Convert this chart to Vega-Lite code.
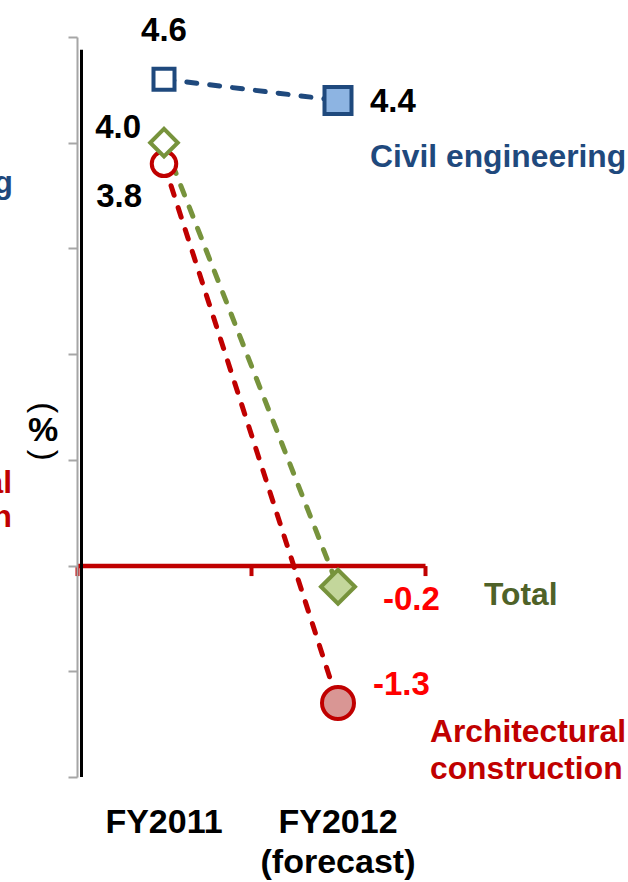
{
  "$schema": "https://vega.github.io/schema/vega-lite/v6.json",
  "width": 348,
  "height": 740,
  "autosize": {"type": "none"},
  "padding": {"left": 77, "top": 37, "right": 203, "bottom": 105},
  "background": "white",
  "config": {
    "view": {"stroke": null},
    "font": "Liberation Sans",
    "text": {"font": "Liberation Sans", "fontSize": 33, "fontWeight": "bold", "baseline": "alphabetic"}
  },
  "datasets": {
    "growth": [
      {"series": "Architectural construction", "year": "FY2011", "value": 3.8},
      {"series": "Architectural construction", "year": "FY2012 (forecast)", "value": -1.3},
      {"series": "Civil engineering", "year": "FY2011", "value": 4.6},
      {"series": "Civil engineering", "year": "FY2012 (forecast)", "value": 4.4},
      {"series": "Total", "year": "FY2011", "value": 4.0},
      {"series": "Total", "year": "FY2012 (forecast)", "value": -0.2}
    ]
  },
  "resolve": {"axis": {"x": "independent"}},
  "layer": [
    {
      "data": {"name": "growth"},
      "mark": {"type": "line", "strokeWidth": 5, "strokeDash": [10, 13], "strokeCap": "round"},
      "encoding": {
        "x": {
          "field": "year",
          "type": "nominal",
          "sort": ["FY2011", "FY2012 (forecast)"],
          "scale": {"type": "band", "paddingInner": 0, "paddingOuter": 0},
          "axis": {
            "orient": "bottom",
            "title": null,
            "domain": false,
            "ticks": false,
            "labelAngle": 0,
            "labelFontSize": 34,
            "labelFontWeight": "bold",
            "labelColor": "black",
            "labelPadding": 28,
            "labelLineHeight": 40,
            "labelExpr": "split(datum.value, ' ')"
          }
        },
        "y": {
          "field": "value",
          "type": "quantitative",
          "scale": {"domain": [-2, 5], "nice": false, "zero": false},
          "axis": {
            "values": [-2, -1, 0, 1, 2, 3, 4, 5],
            "labels": false,
            "grid": false,
            "domainColor": "#A6A6A6",
            "domainWidth": 2,
            "tickColor": "#A6A6A6",
            "tickWidth": 2,
            "tickSize": 9,
            "title": "(\u00a0\u00a0\u00a0\u00a0)",
            "titleFont": "Liberation Sans",
            "titleFontSize": 33,
            "titleFontWeight": "normal",
            "titleColor": "black",
            "titleAngle": 90,
            "titleAlign": "center",
            "titleBaseline": "middle",
            "titleX": -34,
            "titleY": 394
          }
        },
        "color": {
          "field": "series",
          "type": "nominal",
          "scale": {
            "domain": ["Architectural construction", "Civil engineering", "Total"],
            "range": ["#C00000", "#1F497D", "#77933C"]
          },
          "legend": null
        },
        "order": {"field": "series", "sort": "ascending"}
      }
    },
    {
      "data": {"values": [{}]},
      "mark": {"type": "rule", "color": "black", "strokeWidth": 3, "xOffset": 4.5},
      "encoding": {
        "x": {"datum": "FY2011", "bandPosition": 0,
          "axis": {
            "orient": "bottom",
            "labels": false,
            "title": null,
            "offset": -211.43,
            "domainColor": "#C00000",
            "domainWidth": 4.5,
            "domainCap": "butt",
            "tickColor": "#C00000",
            "tickWidth": 4,
            "tickSize": 10,
            "bandPosition": 1,
            "tickExtra": true
          }
        },
        "y": {"datum": 4.88},
        "y2": {"datum": -2}
      }
    },
    {
      "data": {"values": [{"unit": "%"}]},
      "mark": {"type": "text", "align": "center", "baseline": "middle", "dx": -34, "fontSize": 34, "color": "black"},
      "encoding": {
        "x": {"datum": "FY2011", "bandPosition": 0, "axis": null},
        "y": {"datum": 1.27},
        "text": {"field": "unit"}
      }
    },
    {
      "data": {"name": "growth"},
      "mark": {"type": "point", "filled": false, "strokeWidth": 4, "opacity": 1},
      "encoding": {
        "x": {"field": "year", "type": "nominal", "axis": null},
        "y": {"field": "value", "type": "quantitative"},
        "shape": {
          "field": "series",
          "type": "nominal",
          "scale": {
            "domain": ["Architectural construction", "Civil engineering", "Total"],
            "range": ["circle", "square", "diamond"]
          },
          "legend": null
        },
        "stroke": {
          "field": "series",
          "type": "nominal",
          "scale": {
            "domain": ["Architectural construction", "Civil engineering", "Total"],
            "range": ["#C00000", "#1F497D", "#77933C"]
          },
          "legend": null
        },
        "fill": {
          "condition": {"test": "datum.year === 'FY2011'", "value": "white"},
          "field": "series",
          "type": "nominal",
          "scale": {
            "domain": ["Architectural construction", "Civil engineering", "Total"],
            "range": ["#D99694", "#8DB4E2", "#C3D69B"]
          },
          "legend": null
        },
        "size": {
          "condition": [
            {"test": "datum.series === 'Civil engineering' && datum.year === 'FY2011'", "value": 441},
            {"test": "datum.series === 'Civil engineering'", "value": 729},
            {"test": "datum.series === 'Total' && datum.year === 'FY2011'", "value": 760},
            {"test": "datum.series === 'Total'", "value": 1156},
            {"test": "datum.year === 'FY2011'", "value": 600}
          ],
          "value": 1024
        }
      }
    },
    {
      "data": {"name": "growth"},
      "transform": [
        {"filter": "datum.series === 'Civil engineering' && datum.year === 'FY2011'"},
        {"calculate": "replace(format(datum.value, '.1f'), '\u2212', '-')", "as": "label"}
      ],
      "mark": {"type": "text", "align": "center", "dy": -38, "color": "black"},
      "encoding": {
        "x": {"field": "year", "type": "nominal", "axis": null},
        "y": {"field": "value", "type": "quantitative"},
        "text": {"field": "label"}
      }
    },
    {
      "data": {"name": "growth"},
      "transform": [
        {"filter": "datum.series === 'Civil engineering' && datum.year !== 'FY2011'"},
        {"calculate": "replace(format(datum.value, '.1f'), '\u2212', '-')", "as": "label"}
      ],
      "mark": {"type": "text", "align": "left", "dx": 32, "dy": 12, "color": "black"},
      "encoding": {
        "x": {"field": "year", "type": "nominal", "axis": null},
        "y": {"field": "value", "type": "quantitative"},
        "text": {"field": "label"}
      }
    },
    {
      "data": {"name": "growth"},
      "transform": [
        {"filter": "datum.series === 'Total' && datum.year === 'FY2011'"},
        {"calculate": "replace(format(datum.value, '.1f'), '\u2212', '-')", "as": "label"}
      ],
      "mark": {"type": "text", "align": "right", "dx": -23, "dy": -5, "color": "black"},
      "encoding": {
        "x": {"field": "year", "type": "nominal", "axis": null},
        "y": {"field": "value", "type": "quantitative"},
        "text": {"field": "label"}
      }
    },
    {
      "data": {"name": "growth"},
      "transform": [
        {"filter": "datum.series === 'Architectural construction' && datum.year === 'FY2011'"},
        {"calculate": "replace(format(datum.value, '.1f'), '\u2212', '-')", "as": "label"}
      ],
      "mark": {"type": "text", "align": "right", "dx": -22, "dy": 43, "color": "black"},
      "encoding": {
        "x": {"field": "year", "type": "nominal", "axis": null},
        "y": {"field": "value", "type": "quantitative"},
        "text": {"field": "label"}
      }
    },
    {
      "data": {"name": "growth"},
      "transform": [
        {"filter": "datum.series === 'Total' && datum.year !== 'FY2011'"},
        {"calculate": "replace(format(datum.value, '.1f'), '\u2212', '-')", "as": "label"}
      ],
      "mark": {"type": "text", "align": "left", "dx": 45, "dy": 23, "color": "#FF0000"},
      "encoding": {
        "x": {"field": "year", "type": "nominal", "axis": null},
        "y": {"field": "value", "type": "quantitative"},
        "text": {"field": "label"}
      }
    },
    {
      "data": {"name": "growth"},
      "transform": [
        {"filter": "datum.series === 'Architectural construction' && datum.year !== 'FY2011'"},
        {"calculate": "replace(format(datum.value, '.1f'), '\u2212', '-')", "as": "label"}
      ],
      "mark": {"type": "text", "align": "left", "dx": 35, "dy": -8, "color": "#FF0000"},
      "encoding": {
        "x": {"field": "year", "type": "nominal", "axis": null},
        "y": {"field": "value", "type": "quantitative"},
        "text": {"field": "label"}
      }
    },
    {
      "data": {"name": "growth"},
      "transform": [{"filter": "datum.series === 'Civil engineering' && datum.year !== 'FY2011'"}],
      "mark": {"type": "text", "align": "left", "dx": 32, "dy": 67, "color": "#1F497D", "fontSize": 31.8},
      "encoding": {
        "x": {"field": "year", "type": "nominal", "axis": null},
        "y": {"field": "value", "type": "quantitative"},
        "text": {"field": "series"}
      }
    },
    {
      "data": {"name": "growth"},
      "transform": [{"filter": "datum.series === 'Total' && datum.year !== 'FY2011'"}],
      "mark": {"type": "text", "align": "left", "dx": 146, "dy": 18, "color": "#4F6228", "fontSize": 31.8},
      "encoding": {
        "x": {"field": "year", "type": "nominal", "axis": null},
        "y": {"field": "value", "type": "quantitative"},
        "text": {"field": "series"}
      }
    },
    {
      "data": {"name": "growth"},
      "transform": [
        {"filter": "datum.series === 'Architectural construction' && datum.year !== 'FY2011'"},
        {"calculate": "split(datum.series, ' ')", "as": "lines"}
      ],
      "mark": {"type": "text", "align": "left", "dx": 92, "dy": 39, "lineHeight": 37, "color": "#C00000", "fontSize": 31.8},
      "encoding": {
        "x": {"field": "year", "type": "nominal", "axis": null},
        "y": {"field": "value", "type": "quantitative"},
        "text": {"field": "lines"}
      }
    },
    {
      "data": {"values": [{"series": "Civil engineering"}]},
      "mark": {"type": "text", "align": "right", "dx": -64, "color": "#1F497D", "fontSize": 31.8},
      "encoding": {
        "x": {"datum": "FY2011", "bandPosition": 0, "axis": null},
        "y": {"datum": 3.524},
        "text": {"field": "series"}
      }
    },
    {
      "data": {"values": [{"series": "Architectural construction"}]},
      "transform": [{"calculate": "split(datum.series, ' ')", "as": "lines"}],
      "mark": {"type": "text", "align": "right", "dx": -65, "lineHeight": 34, "color": "#C00000", "fontSize": 31.8},
      "encoding": {
        "x": {"datum": "FY2011", "bandPosition": 0, "axis": null},
        "y": {"datum": 0.686},
        "text": {"field": "lines"}
      }
    }
  ]
}
